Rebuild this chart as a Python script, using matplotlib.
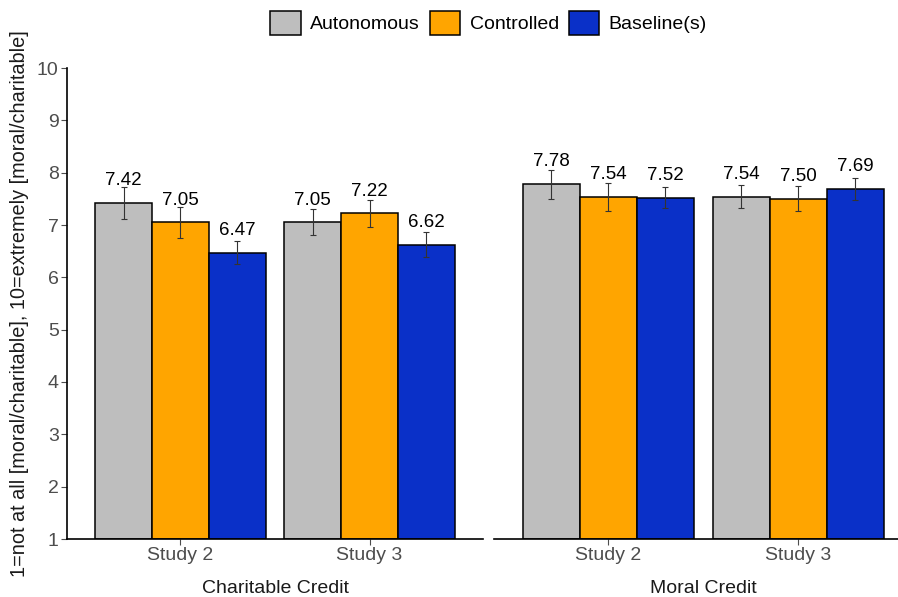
import matplotlib.pyplot as plt
import numpy as np

plt.rcParams['font.family'] = ['Liberation Sans', 'DejaVu Sans']

studies = ["Study 2", "Study 3"]
conditions = ["Autonomous", "Controlled", "Baseline(s)"]
colors = ["#BEBEBE", "#FFA500", "#0A30C8"]
facets = ["Charitable Credit", "Moral Credit"]

# means per condition (rows) and study (columns)
charitable_means = [[7.42, 7.05], [7.05, 7.22], [6.47, 6.62]]
charitable_err = [[0.30, 0.25], [0.30, 0.26], [0.22, 0.24]]
moral_means = [[7.78, 7.54], [7.54, 7.50], [7.52, 7.69]]
moral_err = [[0.28, 0.22], [0.27, 0.24], [0.20, 0.21]]

fig = plt.figure(figsize=(8.98, 5.97), dpi=100)
ax1 = fig.add_axes([67/898, 1 - 539/597, 416/898, 471/597])
ax2 = fig.add_axes([494/898, 1 - 539/597, 418/898, 471/597])

x = np.arange(1, len(studies) + 1)
w = 0.3
tick_col = "#4D4D4D"

for ax, means, errs, title in [(ax1, charitable_means, charitable_err, facets[0]),
                               (ax2, moral_means, moral_err, facets[1])]:
    for i, cond in enumerate(conditions):
        pos = x + (i - 1) * w
        ax.bar(pos, np.array(means[i]) - 1, width=w, bottom=1, color=colors[i],
               edgecolor="black", linewidth=1.1, label=cond, zorder=2)
        ax.errorbar(pos, means[i], yerr=errs[i], fmt="none", ecolor="#333333",
                    elinewidth=0.8, capsize=2.5, capthick=0.8, zorder=3)
        for p, m in zip(pos, means[i]):
            ax.annotate(f"{m:.2f}", (p, m), xytext=(0, 16), textcoords="offset points",
                        ha="center", va="center", fontsize=13.5, color="black", zorder=4)
    ax.set_xlim(0.4, 2.6)
    ax.set_ylim(1, 10)
    ax.set_xticks(x)
    ax.set_xticklabels(studies, fontsize=14, color=tick_col)
    ax.set_xlabel(title, fontsize=14, color="#1A1A1A", labelpad=11)
    for s in ["top", "right"]:
        ax.spines[s].set_visible(False)
    ax.spines["bottom"].set_linewidth(1.2)
    ax.spines["left"].set_linewidth(1.2)
    ax.tick_params(axis="both", length=4, width=0.8, color=tick_col, pad=2)

ax1.set_yticks(range(1, 11))
ax1.set_yticklabels([str(v) for v in range(1, 11)], fontsize=14, color=tick_col)
ax1.set_ylabel("1=not at all [moral/charitable], 10=extremely [moral/charitable]",
               fontsize=14.3, color="#1A1A1A", labelpad=6)

ax2.spines["left"].set_visible(False)
ax2.set_yticks([])

handles, labels = ax1.get_legend_handles_labels()
fig.legend(handles, labels, loc="center", bbox_to_anchor=(0.544, 0.962), ncol=3,
           frameon=False, fontsize=14, handlelength=1.55, handleheight=1.55,
           handletextpad=0.5, columnspacing=0.5)

fig.savefig("out.png", dpi=100)
